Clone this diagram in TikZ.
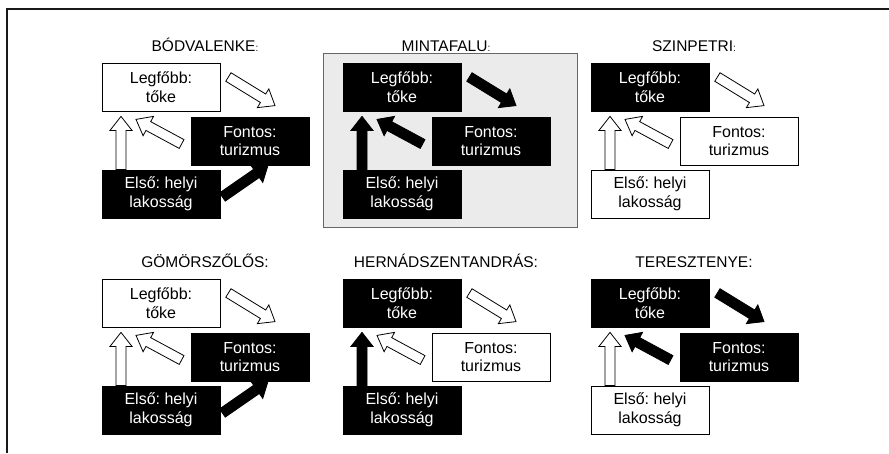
\documentclass[tikz,border=0pt]{standalone}
\usepackage{fontspec}
\setmainfont{Liberation Sans}
\usetikzlibrary{calc}
\frenchspacing

% smaller colon used after the upper-row village names
\newcommand\smallcolon{{\fontsize{10}{10}\selectfont :}}

% block arrow: #1 style, #2 tail coordinate, #3 tip coordinate
\newcommand\fatarrow[3]{%
  \coordinate (fa-h) at ($(#3)!14pt!(#2)$);
  \draw[#1] ($(#2)!5pt!90:(#3)$) -- ($(fa-h)!5pt!90:(#3)$)
    -- ($(fa-h)!11pt!90:(#3)$) -- (#3) -- ($(fa-h)!11pt!-90:(#3)$)
    -- ($(fa-h)!5pt!-90:(#3)$) -- ($(#2)!5pt!-90:(#3)$) -- cycle;}

% one village: #1 prefix, #2/#3 offset, #4-#6 box styles, #7 title
\newcommand\villagepanel[7]{%
  \node[ttl] (#1T) at (205+#2,51+#3) {#7};
  \node[#4] (#1L) at (161+#2,87+#3) {Legfőbb:\\tőke};
  \node[#5] (#1F) at (250+#2,141+#3) {Fontos:\\turizmus};
  \node[#6] (#1E) at (161+#2,194+#3) {Első: helyi\\lakosság};
  \coordinate (#1upT) at ($(#1E.north)+(-40,0)$);
  \coordinate (#1upH) at ($(#1L.south)+(-40,5)$);
  \coordinate (#1flT) at ($(#1F.west)+(-9,3)$);
  \coordinate (#1flH) at ($(#1L.south)+(-25,8)$);
  \coordinate (#1lfT) at ($(#1L.east)+(8,-10)$);
  \coordinate (#1lfH) at ($(#1F.north)+(25,-11)$);
  \coordinate (#1efT) at ($(#1E.east)+(2,3)$);
  \coordinate (#1efH) at ($(#1F.south)+(18,0)$);
}

\tikzset{
  boxfont/.style={font=\fontsize{16}{18.5}\selectfont},
  wbox/.style={boxfont, draw=black, line width=0.8pt, fill=white,
    minimum width=118pt, minimum height=48pt, inner sep=0pt, align=center},
  bbox/.style={wbox, fill=black, text=white},
  warrow/.style={draw=black, line width=0.8pt, fill=white, line join=miter},
  barrow/.style={draw=black, line width=0.8pt, fill=black, line join=miter},
  ttl/.style={anchor=base, font=\fontsize{15.5}{18}\selectfont},
  framebg/.style={draw=black!60, line width=0.8pt, fill=black!8},
}

\begin{document}
\begin{tikzpicture}[x=1pt, y=-1pt]
\useasboundingbox (0,0) rectangle (889,453);
\fill[white] (0,0) rectangle (889,453);

% outer frame (top and left edges)
\draw[line width=1.5pt, black!90] (889,9) -- (7,9) -- (7,453);

% shaded background of the model village
\draw[framebg] (323,53) rectangle (577,227);

% upper row
\villagepanel{a}{0}{0}{wbox}{bbox}{bbox}{BÓDVALENKE\smallcolon}
\villagepanel{b}{241}{0}{bbox}{bbox}{bbox}{MINTAFALU\smallcolon}
\villagepanel{c}{489}{0}{bbox}{wbox}{wbox}{SZINPETRI\smallcolon}
% lower row
\villagepanel{d}{0}{216}{wbox}{bbox}{bbox}{GÖMÖRSZŐLŐS:}
\villagepanel{e}{241}{216}{bbox}{wbox}{bbox}{HERNÁDSZENTANDRÁS:}
\villagepanel{f}{489}{216}{bbox}{bbox}{wbox}{TERESZTENYE:}

% arrows
\fatarrow{warrow}{aupT}{aupH}
\fatarrow{warrow}{aflT}{aflH}
\fatarrow{warrow}{alfT}{alfH}
\fatarrow{barrow}{aefT}{aefH}

\fatarrow{barrow}{bupT}{bupH}
\fatarrow{barrow}{bflT}{bflH}
\fatarrow{barrow}{blfT}{blfH}

\fatarrow{warrow}{cupT}{cupH}
\fatarrow{warrow}{cflT}{cflH}
\fatarrow{warrow}{clfT}{clfH}

\fatarrow{warrow}{dupT}{dupH}
\fatarrow{warrow}{dflT}{dflH}
\fatarrow{warrow}{dlfT}{dlfH}
\fatarrow{barrow}{defT}{defH}

\fatarrow{barrow}{eupT}{eupH}
\fatarrow{warrow}{eflT}{eflH}
\fatarrow{warrow}{elfT}{elfH}

\fatarrow{warrow}{fupT}{fupH}
\fatarrow{barrow}{fflT}{fflH}
\fatarrow{barrow}{flfT}{flfH}
\end{tikzpicture}
\end{document}
